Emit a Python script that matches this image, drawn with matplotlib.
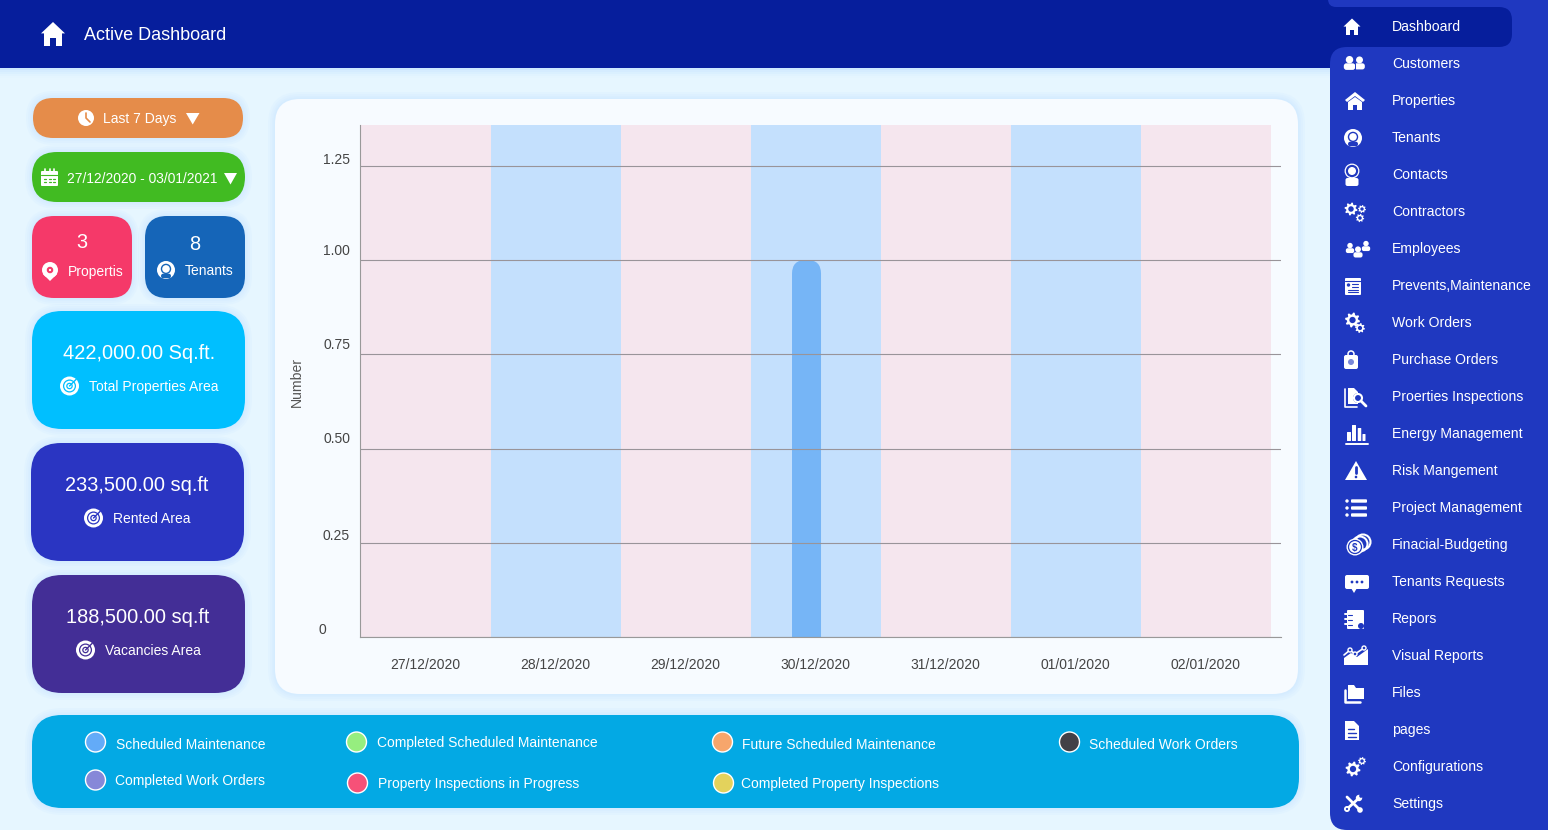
import matplotlib
matplotlib.use("Agg")
import matplotlib.pyplot as plt
import matplotlib.patches as mp
import numpy as np
from matplotlib.transforms import Affine2D

# DATA
dates = ['27/12/2020', '28/12/2020', '29/12/2020', '30/12/2020', '31/12/2020', '01/01/2020', '02/01/2020']
bar_values = [0, 0, 0, 1, 0, 0, 0]
y_ticks = [0, 0.25, 0.5, 0.75, 1.0, 1.25]
y_labels = ['0', '0.25', '0.50', '0.75', '1.00', '1.25']
menu_items = ['Dashboard', 'Customers', 'Properties', 'Tenants', 'Contacts', 'Contractors', 'Employees',
              'Prevents,Maintenance', 'Work Orders', 'Purchase Orders', 'Proerties Inspections',
              'Energy Management', 'Risk Mangement', 'Project Management', 'Finacial-Budgeting',
              'Tenants Requests', 'Repors', 'Visual Reports', 'Files', 'pages', 'Configurations', 'Settings']
legend_labels = ['Scheduled Maintenance', 'Completed Scheduled Maintenance', 'Future Scheduled Maintenance',
                 'Scheduled Work Orders', 'Completed Work Orders', 'Property Inspections in Progress',
                 'Completed Property Inspections']
legend_colors = ['#63abf8', '#96ee7f', '#f7a66c', '#434147', '#8688d8', '#f65178', '#e3d25c']

# COLORS
BG = '#e6f6ff'
HEADER = '#061e9c'
SIDE = '#1f38c0'
W = 'white'

plt.rcParams['font.family'] = ['Liberation Sans', 'DejaVu Sans']
fig = plt.figure(figsize=(15.48, 8.30), dpi=100, facecolor=BG)

# pixel canvas for the dashboard furniture
ui = fig.add_axes([0, 0, 1, 1], zorder=0)
ui.set_xlim(0, 1548)
ui.set_ylim(830, 0)
ui.axis('off')


def px(n):
    return n * 0.72


def rrect(x0, y0, x1, y1, r, c, z=2, alpha=1):
    ui.add_patch(mp.FancyBboxPatch((x0, y0), x1 - x0, y1 - y0, boxstyle=f'round,pad=0,rounding_size={r}',
                                   fc=c, ec='none', zorder=z, alpha=alpha))


def card(x0, y0, x1, y1, r, c):
    for g in (7, 5, 3, 1.5):
        rrect(x0 - g, y0 - g, x1 + g, y1 + g, r + g, '#a9d6ff', z=1.5, alpha=0.07)
    rrect(x0, y0, x1, y1, r, c)


def circ(x, y, r, c, z=3):
    ui.add_patch(mp.Circle((x, y), r, fc=c, ec='none', zorder=z))


def ring(x, y, r, c, w=1.2, z=3):
    ui.add_patch(mp.Circle((x, y), r, fc='none', ec=c, lw=w, zorder=z))


def poly(pts, c, z=3):
    ui.add_patch(mp.Polygon(pts, closed=True, fc=c, ec='none', zorder=z))


def ln(xs, ys, c=W, w=1.5, z=3):
    ui.plot(xs, ys, color=c, lw=w, zorder=z, solid_capstyle='round')


def txt(x, y, s, size=13.85, ha='left', c=W):
    ui.text(x, y + 1, s, fontsize=px(size), ha=ha, va='center', color=c, zorder=5)


def gear(x, y, r, hole, z=3):
    a = np.linspace(0, 2 * np.pi, 32, endpoint=False)
    rad = np.where(np.arange(32) % 4 < 2, r, r * 0.74)
    poly(np.c_[x + rad * np.cos(a + 0.1), y + rad * np.sin(a + 0.1)], W, z)
    circ(x, y, r * 0.42, hole, z + 0.1)


def person(x, y, s, c=W, z=3):
    circ(x, y - s * 0.55, s * 0.62, c, z)
    rrect(x - s * 0.95, y + s * 0.05, x + s * 0.95, y + s * 1.15, s * 0.45, c, z)


def house(x, y, s, c=W, back=HEADER):
    poly([(x - s, y - 0.05 * s), (x, y - s), (x + s, y - 0.05 * s)], c)
    poly([(x - 0.72 * s, y - 0.1 * s), (x + 0.72 * s, y - 0.1 * s), (x + 0.72 * s, y + s), (x - 0.72 * s, y + s)], c)
    poly([(x - 0.22 * s, y + 0.35 * s), (x + 0.22 * s, y + 0.35 * s), (x + 0.22 * s, y + s), (x - 0.22 * s, y + s)], back, 3.1)


def avatar(x, y, r, back):
    circ(x, y, r, W)
    ring(x, y - r * 0.12, r * 0.5, back, 1.0)
    rrect(x - r * 0.55, y + r * 0.42, x + r * 0.55, y + r * 0.92, 2, back, 3.1)


def radar(x, y, r, back):
    circ(x, y, r, W)
    ring(x, y, r * 0.62, back, 0.9)
    ring(x, y, r * 0.28, back, 0.9)
    ln([x, x + r * 0.7], [y, y - r * 0.7], back, 1.0, 3.2)


# ICONS FOR THE MENU
def ic_dashboard(x, y):
    house(x, y, 8.5, back=HEADER)


def ic_customers(x, y):
    person(x - 4.5, y - 1, 6)
    person(x + 5.5, y - 1, 5.6)
    ln([x + 0.5, x + 0.5], [y - 1, y + 6], SIDE, 0.7, 3.1)


def ic_properties(x, y):
    poly([(x - 10, y - 1), (x, y - 9), (x + 10, y - 1), (x + 8, y + 1), (x, y - 5), (x - 8, y + 1)], W)
    poly([(x - 7, y + 1), (x, y - 4), (x + 7, y + 1), (x + 7, y + 9), (x + 2, y + 9), (x + 2, y + 4), (x - 2, y + 4),
          (x - 2, y + 9), (x - 7, y + 9)], W)


def ic_tenants(x, y):
    avatar(x, y, 9, SIDE)


def ic_contacts(x, y):
    ring(x, y - 4, 6.8, W, 0.9)
    circ(x, y - 4, 4, W)
    rrect(x - 6.5, y + 3, x + 6.5, y + 11, 2, W)


def ic_contractors(x, y):
    gear(x - 4, y - 3, 6.5, SIDE)
    gear(x + 7, y - 3, 4, SIDE)
    gear(x + 5, y + 6, 4.2, SIDE)


def ic_employees(x, y):
    person(x - 8, y - 1, 4.4)
    person(x + 8, y - 3, 4.4)
    person(x, y + 3, 4.8)


def ic_prevents(x, y):
    rrect(x - 8, y - 8, x + 8, y + 9, 1, W)
    ln([x - 8, x + 8], [y - 5, y - 5], SIDE, 0.8, 3.1)
    circ(x - 4.5, y - 1, 1.7, SIDE, 3.1)
    for dy, x0 in zip((-1.5, 1.5, 4.5, 6.5), (x - 1, x - 1, x - 5, x - 5)):
        ln([x0, x + 5], [y + dy, y + dy], SIDE, 0.8, 3.1)


def ic_workorders(x, y):
    gear(x - 2.5, y - 3, 7.5, SIDE)
    gear(x + 5, y + 5, 5, SIDE)


def ic_purchase(x, y):
    ring(x, y - 6, 3, W, 1.1)
    rrect(x - 7, y - 5, x + 7, y + 9, 2, W)
    ui.add_patch(mp.Circle((x, y + 2), 3, fc=SIDE, ec='none', alpha=0.6, zorder=3.3))


def ic_inspections(x, y):
    ln([x - 10, x - 10, x + 2], [y - 8, y + 10, y + 10], W, 1.2)
    poly([(x - 7, y - 9), (x - 1, y - 9), (x + 3, y - 5), (x + 3, y + 7), (x - 7, y + 7)], W)
    circ(x + 3, y + 1, 5, SIDE, 3.1)
    ring(x + 3, y + 1, 4, W, 1.5, 3.2)
    ln([x + 6, x + 11], [y + 4, y + 9], W, 2, 3.2)


def ic_energy(x, y):
    for dx, h, w_ in ((-8, 9, 4), (-3, 16, 4), (2.5, 13, 3.5), (7, 7, 3)):
        rrect(x + dx - w_ / 2, y + 7 - h, x + dx + w_ / 2, y + 7, 0.5, W)
    ln([x - 11, x + 11], [y + 9.5, y + 9.5], W, 1.4)


def ic_risk(x, y):
    poly([(x, y - 10), (x + 11, y + 9), (x - 11, y + 9)], W)
    ln([x, x], [y - 4, y + 2], SIDE, 2, 3.1)
    circ(x, y + 6, 1.3, SIDE, 3.1)


def ic_project(x, y):
    for dy in (-7, 0, 7):
        circ(x - 9, y + dy, 1.7, W)
        rrect(x - 5, y + dy - 1.7, x + 11, y + dy + 1.7, 1, W)


def ic_financial(x, y):
    ring(x + 6, y - 3, 7.5, W, 1.5)
    ring(x + 3, y - 1, 7.5, W, 1.5)
    circ(x - 2, y + 2, 8.5, W, 3.1)
    ring(x - 2, y + 2, 6.5, SIDE, 0.9, 3.2)
    ui.text(x - 2, y + 2.5, '$', fontsize=px(10), ha='center', va='center', color=SIDE, zorder=3.3, fontweight='bold')


def ic_requests(x, y):
    rrect(x - 12, y - 7, x + 12, y + 7, 2, W)
    poly([(x - 6, y + 6), (x, y + 6), (x - 3, y + 11)], W)
    for dx in (-5, 0, 5):
        circ(x + dx, y, 1.4, SIDE, 3.1)


def ic_reports(x, y):
    rrect(x - 7, y - 9, x + 10, y + 10, 1, W)
    for dy in (-5, 0, 5):
        ln([x - 9, x - 4], [y + dy, y + dy], W, 1.4)
        ln([x - 6, x - 2], [y + dy + 1.2, y + dy + 1.2], SIDE, 0.8, 3.1)
    circ(x + 7, y + 7, 3, SIDE, 3.1)


def ic_visual(x, y):
    poly([(x - 12, y + 9), (x - 12, y + 2), (x - 5, y - 3), (x + 1, y + 1), (x + 12, y - 7), (x + 12, y + 9)], W)
    ln([x - 12, x - 6, x - 1, x + 8], [y - 1, y - 6, y - 2, y - 8], W, 1.2)
    for px_, py_ in ((-6, -6), (-1, -2), (8, -8)):
        circ(x + px_, y + py_, 2, SIDE, 3.1)
        ring(x + px_, y + py_, 2, W, 1, 3.2)


def ic_files(x, y):
    ln([x - 9, x - 9, x + 6], [y - 3, y + 9, y + 9], W, 1.8)
    poly([(x - 6, y - 8), (x, y - 8), (x + 2, y - 5), (x + 10, y - 5), (x + 10, y + 6), (x - 6, y + 6)], W)


def ic_pages(x, y):
    poly([(x - 7, y - 9), (x + 2, y - 9), (x + 7, y - 4), (x + 7, y + 10), (x - 7, y + 10)], W)
    for dy, x1 in ((-1, x + 2), (3, x + 4), (6.5, x + 4)):
        ln([x - 4, x1], [y + dy, y + dy], SIDE, 1, 3.1)


def ic_config(x, y):
    gear(x - 2, y + 2, 7.5, SIDE)
    gear(x + 7, y - 6, 4, SIDE)


def ic_settings(x, y):
    ln([x - 6, x + 7], [y - 7, y + 6], W, 2)
    ln([x + 6, x - 6], [y - 6, y + 5], W, 2)
    circ(x - 6, y + 5, 3, W)
    circ(x - 6, y + 5, 1.1, SIDE, 3.1)
    circ(x + 7, y + 6, 2.8, W)
    circ(x + 6, y - 6, 3.2, W)
    circ(x + 8, y - 8, 1.8, SIDE, 3.1)


menu_icons = [ic_dashboard, ic_customers, ic_properties, ic_tenants, ic_contacts, ic_contractors, ic_employees,
              ic_prevents, ic_workorders, ic_purchase, ic_inspections, ic_energy, ic_risk, ic_project, ic_financial,
              ic_requests, ic_reports, ic_visual, ic_files, ic_pages, ic_config, ic_settings]
menu_icon_x = [1352, 1354, 1355, 1353, 1352, 1355, 1358, 1353, 1355, 1351, 1355, 1357, 1356, 1356, 1357, 1357, 1354,
               1356, 1354, 1352, 1355, 1353]

# HEADER + SIDEBAR
for i, a in enumerate((0.10, 0.08, 0.06, 0.04, 0.02)):
    ui.add_patch(mp.Rectangle((0, 68), 1340, 2 * (i + 1), fc='#8fcbff', ec='none', alpha=a, zorder=1))
ui.add_patch(mp.Rectangle((0, 0), 1355, 68, fc=HEADER, ec='none', zorder=1.6))
ui.add_patch(mp.Rectangle((1350, 0), 198, 68, fc=SIDE, ec='none', zorder=1.7))
rrect(1330, 47, 1620, 830, 17, SIDE, z=1.8)
rrect(1328, -25, 1620, 7, 8, SIDE, z=1.8)
rrect(1290, 7, 1512, 47, 13, HEADER, z=1.9)

house(53, 34, 12, back=HEADER)
txt(84, 34.5, 'Active Dashboard', 18)

for i, (label, icon, ix) in enumerate(zip(menu_items, menu_icons, menu_icon_x)):
    y = 26 + 37 * i
    txt(1392, y, label, 14)
    icon(ix, y + 1)

# LEFT COLUMN
card(33, 98, 243, 138, 20, '#e58c4a')
circ(86, 118, 8, W)
ln([86, 86, 90], [113, 118, 122], '#e58c4a', 1.2)
txt(103, 117.5, 'Last 7 Days')
poly([(186, 113), (199.5, 113), (192.7, 124.5)], W)

card(32, 152, 245, 202, 25, '#41bb22')
rrect(41, 171, 58, 186, 1, W)
for dx in (45, 49.5, 54):
    ln([dx, dx], [169.5, 172], W, 1.2)
ln([41, 58], [175, 175], '#41bb22', 0.8)
for dx in (45, 49.5, 54):
    ln([dx - 1, dx + 1], [179, 179], '#41bb22', 0.9)
    ln([dx - 1, dx + 1], [182.5, 182.5], '#41bb22', 0.9)
txt(67, 178, '27/12/2020 - 03/01/2021', 13.7)
poly([(224, 173), (237, 173), (230.5, 184.5)], W)

card(32, 216, 132, 298, 22, '#f53969')
txt(82, 241, '3', 20, ha='center')
circ(50, 270, 8, W)
poly([(43, 274), (57, 274), (50, 281)], W)
ring(50, 270, 2.2, '#f53969', 1.5)
txt(68, 270.5, 'Propertis')

card(145, 216, 245, 298, 22, '#1565b8')
txt(195, 243, '8', 20, ha='center')
avatar(166, 270, 9, '#1565b8')
txt(185, 269.5, 'Tenants')

card(32, 311, 245, 429, 30, '#00bfff')
txt(139, 352, '422,000.00 Sq.ft.', 20, ha='center')
radar(69.5, 386, 9.5, '#00bfff')
txt(89, 385.5, 'Total Properties Area')

card(31, 443, 244, 561, 30, '#2a35c2')
txt(137, 484, '233,500.00 sq.ft', 20, ha='center')
radar(93.5, 518, 9.5, '#2a35c2')
txt(113, 517.5, 'Rented Area')

card(32, 575, 245, 693, 30, '#432e96')
txt(137.5, 616, '188,500.00 sq.ft', 20, ha='center')
radar(85.5, 650, 9.5, '#432e96')
txt(105, 649.5, 'Vacancies Area')

# CHART PANEL + LEGEND BAND
card(275, 99, 1298, 694, 25, '#f7fbff')
card(32, 715, 1299, 808, 30, '#03a9e4')

legend_dot_x = [95.5, 356.5, 722.5, 1069.5, 95.5, 357.5, 723.5]
legend_dot_y = [742, 742, 742, 742, 780, 783, 783]
legend_txt_x = [116, 377, 742, 1089, 115, 378, 741]
legend_txt_y = [744, 742, 744, 744, 780, 783, 783]
for lab, col, dx, dy, tx, ty in zip(legend_labels, legend_colors, legend_dot_x, legend_dot_y, legend_txt_x, legend_txt_y):
    ui.add_patch(mp.Circle((dx, dy), 10, fc=col, ec=W, lw=1, zorder=3))
    txt(tx, ty, lab)

# BAR CHART
ax = fig.add_axes([360 / 1548, 1 - 637 / 830, 921 / 1548, 512 / 830], zorder=1)
ax.patch.set_alpha(0)
y_top = 512 / 377
ax.set_xlim(-0.508, 6.577)
ax.set_ylim(0, y_top)
x = np.arange(len(dates))
band_colors = ['#f5e6ee' if i % 2 == 0 else '#c4e0fd' for i in x]
ax.bar(x, [y_top] * len(x), width=1, color=band_colors, zorder=1)

bar_w = 29 / 130
bar_shift = -9.5 / 130
asp = 130 / 377
for xi, v in zip(x, bar_values):
    if v > 0:
        ax.add_patch(mp.FancyBboxPatch((xi + bar_shift - bar_w / 2, -0.1), bar_w, v + 0.1,
                                       boxstyle=f'round,pad=0,rounding_size={bar_w * 0.47}',
                                       mutation_aspect=asp, fc='#76b5f6', ec='none', zorder=2))

ax.set_yticks(y_ticks)
ax.set_yticklabels(y_labels, fontsize=10, color='#444444')
ax.set_xticks(x)
ax.set_xticklabels(dates, fontsize=10, color='#444444')
ax.tick_params(axis='both', length=0, pad=0)
ax.tick_params(axis='x', pad=15.4)
ax.yaxis.grid(True, color='#999499', lw=0.8, zorder=3)
ax.xaxis.grid(False)
ax.set_axisbelow(False)
for s in ('top', 'right'):
    ax.spines[s].set_visible(False)
for s in ('left', 'bottom'):
    ax.spines[s].set_color('#999999')
    ax.spines[s].set_linewidth(0.8)
    ax.spines[s].set_zorder(4)

# tick labels sit above their gridlines, shifted by hand like the original
y_shift = [(-34, 9), (-10, 8), (-10, 11), (-10, 11), (-10, 11), (-10, 7)]
for lab, (dx, dy) in zip(ax.get_yticklabels(), y_shift):
    lab.set_transform(lab.get_transform() + Affine2D().translate(dx, dy))
for lab in ax.get_xticklabels():
    lab.set_transform(lab.get_transform() + Affine2D().translate(-0.7, 0))
ui.text(297, 381.5, 'Number', rotation=90, fontsize=px(14), ha='center', va='center', color='#555555', zorder=5)

fig.savefig('out.png', dpi=100, facecolor=BG)
